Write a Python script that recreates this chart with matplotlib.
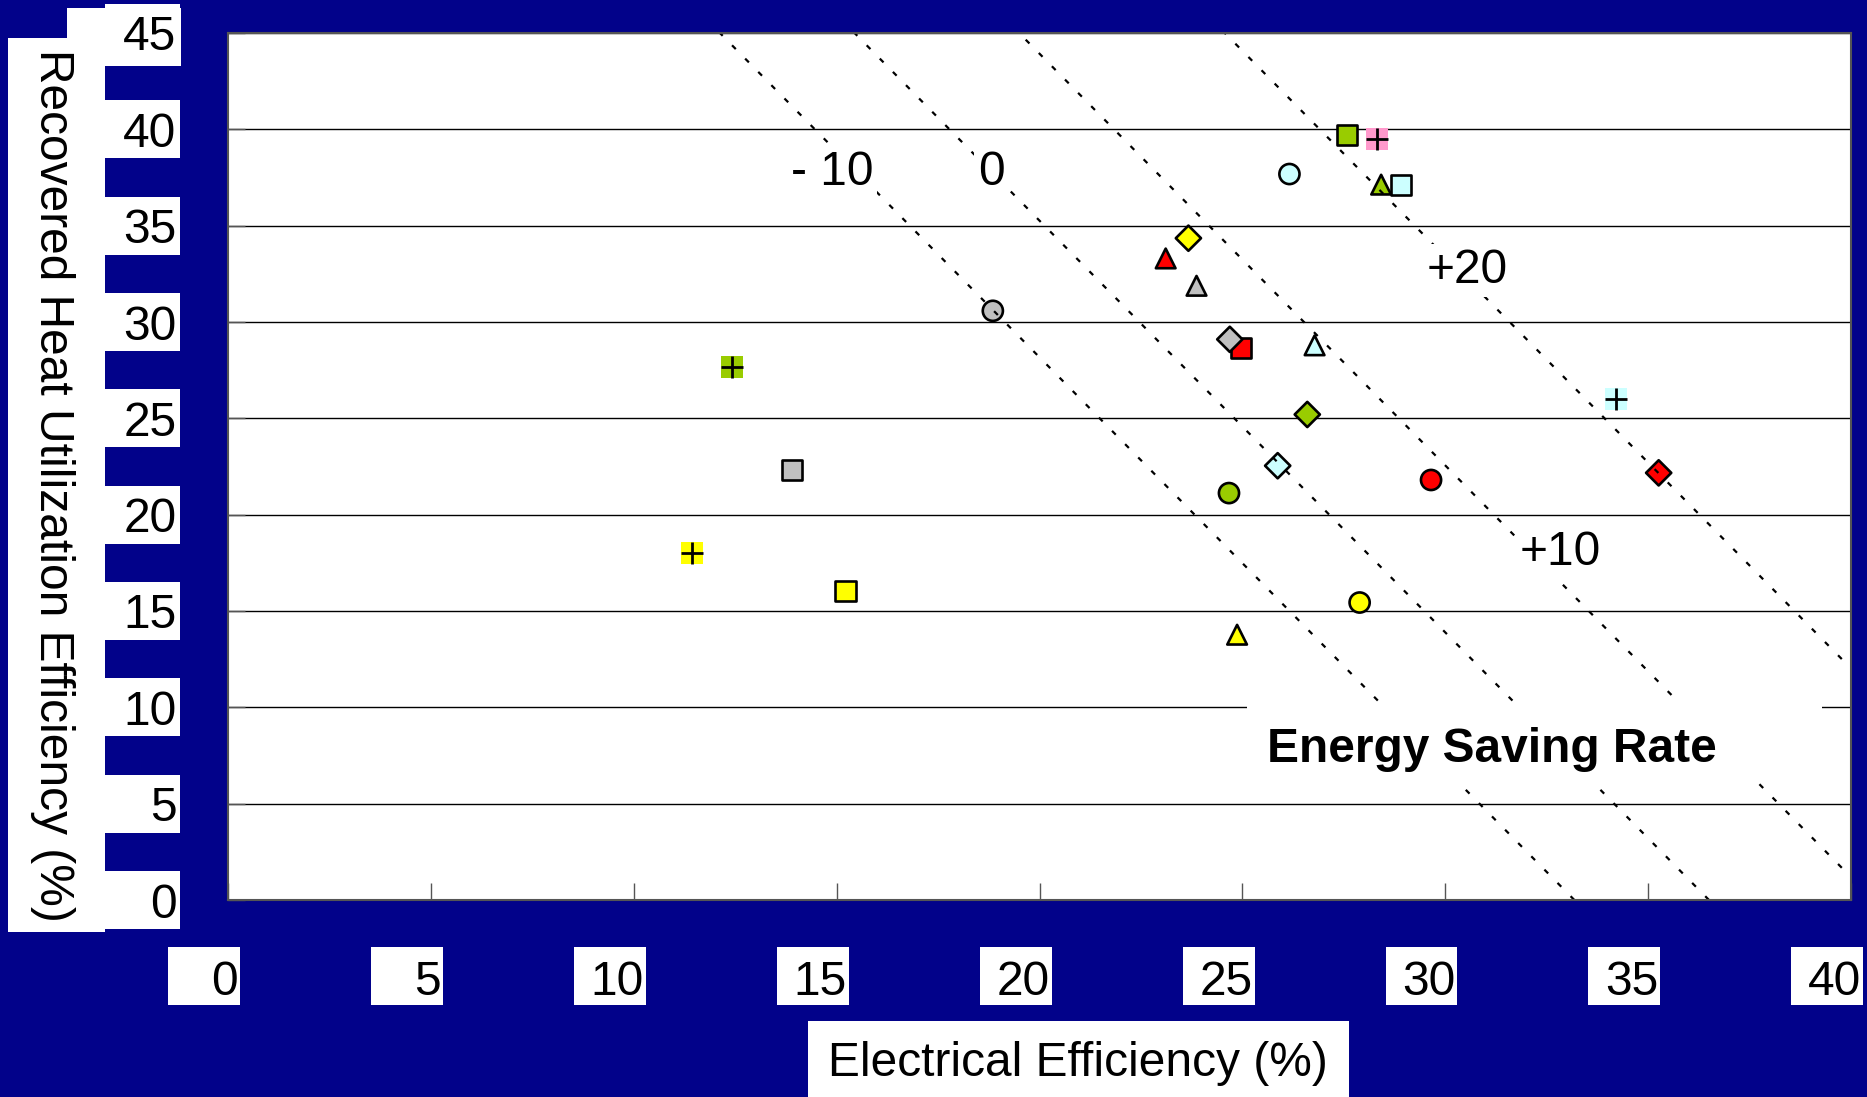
import numpy as np
import matplotlib
matplotlib.use('Agg')
import matplotlib.pyplot as plt
from matplotlib.patches import Rectangle
from matplotlib.transforms import blended_transform_factory, ScaledTranslation

plt.rcParams['font.family'] = ['Liberation Sans', 'DejaVu Sans']
plt.rcParams['font.size'] = 34.5

GREEN, PINK, CYAN, GRAY, RED, YELLOW = '#99CC00', '#FF99CC', '#CCFFFF', '#C0C0C0', '#FF0000', '#FFFF00'

# electrical efficiency (x) / recovered heat efficiency (y), grouped by marker shape
sq_x = [27.57, 28.92, 24.96, 13.90, 15.22]
sq_y = [39.72, 37.13, 28.66, 22.30, 16.06]
sq_c = [GREEN, CYAN, RED, GRAY, YELLOW]

ci_x = [26.16, 18.85, 29.65, 24.67, 27.89]
ci_y = [37.68, 30.58, 21.80, 21.12, 15.44]
ci_c = [CYAN, GRAY, RED, GREEN, YELLOW]

tr_x = [28.42, 23.11, 23.87, 26.78, 24.87]
tr_y = [37.13, 33.30, 31.88, 28.79, 13.77]
tr_c = [GREEN, RED, GRAY, CYAN, YELLOW]

di_x = [23.67, 24.69, 26.60, 25.87, 35.26]
di_y = [34.35, 29.10, 25.20, 22.54, 22.17]
di_c = [YELLOW, GRAY, GREEN, CYAN, RED]

pl_x = [28.31, 12.43, 34.20, 11.43]
pl_y = [39.48, 27.67, 26.00, 18.03]
pl_c = [PINK, GREEN, CYAN, YELLOW]

# energy saving rate iso-lines
esr_rates = [-10, 0, 10, 20]
esr_labels = ['- 10', '0', '+10', '+20']
esr_lab_x = [14.88, 18.81, 32.83, 30.54]
esr_lab_y = [37.10, 37.10, 17.38, 32.02]
ref_elec, ref_heat = 36.5, 78.0

x_ticks = [0, 5, 10, 15, 20, 25, 30, 35, 40]
y_ticks = [0, 5, 10, 15, 20, 25, 30, 35, 40, 45]

W, H = 1867, 1097
fig = plt.figure(figsize=(W / 100, H / 100), dpi=100, facecolor='#02028A')
ax = fig.add_axes([228 / W, 1 - 900 / H, 1623 / W, 867 / H])
ax.set_facecolor('white')
ax.set_xlim(0, 40)
ax.set_ylim(0, 45)
ax.set_xticks(x_ticks)
ax.set_yticks(y_ticks)
ax.yaxis.grid(True, color='black', lw=1.0)
ax.set_axisbelow(True)
for s in ax.spines.values():
    s.set_color('#555555')
    s.set_linewidth(1.5)
ax.tick_params(axis='x', direction='in', length=12, width=1, color='#555555', pad=43)
ax.tick_params(axis='y', direction='in', length=12, width=1, color='#555555', pad=37)
for lbl in ax.get_xticklabels():
    lbl.set_ha('right')
    lbl.set_transform(lbl.get_transform() + ScaledTranslation(0.10, 0, fig.dpi_scale_trans))

# white boxes behind tick labels and axis titles
def px_box(x0, y0, x1, y1):
    fig.add_artist(Rectangle((x0 / W, 1 - y1 / H), (x1 - x0) / W, (y1 - y0) / H,
                             transform=fig.transFigure, fc='white', ec='none', zorder=-1))

xb = blended_transform_factory(ax.transData, ax.transAxes)
for t in x_ticks:
    fig.add_artist(Rectangle((t + 0.30 - 1.77, -0.1211), 1.77, 0.0669, transform=xb,
                             fc='white', ec='none', zorder=-1))
yb = blended_transform_factory(ax.transAxes, ax.transData)
for t in y_ticks:
    fig.add_artist(Rectangle((-0.0758, t - 1.5), 0.0462, 3.0, transform=yb,
                             fc='white', ec='none', zorder=-1))
px_box(67, 8, 181, 66)
px_box(8, 38, 105, 932)
px_box(808, 1021, 1349, 1097)

ax.set_xlabel('Electrical Efficiency (%)', va='center', ha='center')
ax.xaxis.set_label_coords(0.5237, -0.189)
ax.set_ylabel('Recovered Heat Utilization Efficiency (%)', rotation=270, va='center', ha='center')
ax.yaxis.set_label_coords(-0.1084, 0.478)

# markers
ax.scatter(sq_x, sq_y, s=210, marker='s', c=sq_c, edgecolors='black', linewidths=1.9, zorder=2)
ax.scatter(ci_x, ci_y, s=210, marker='o', c=ci_c, edgecolors='black', linewidths=1.9, zorder=2)
ax.scatter(tr_x, tr_y, s=200, marker='^', c=tr_c, edgecolors='black', linewidths=1.9, zorder=2)
ax.scatter(di_x, di_y, s=165, marker='D', c=di_c, edgecolors='black', linewidths=1.9, zorder=2)
ax.scatter(pl_x, pl_y, s=250, marker='s', c=pl_c, edgecolors='none', zorder=2)
ax.scatter(pl_x, pl_y, s=256, marker='+', c='black', linewidths=2, zorder=2.1)

# iso-lines of energy saving rate
hy = np.array([0.0, 45.0])
for r, lab, lx, ly in zip(esr_rates, esr_labels, esr_lab_x, esr_lab_y):
    ex = ref_elec * (1 / (1 - r / 100) - hy / ref_heat)
    ax.plot(ex, hy, color='black', lw=1.6, linestyle=(0, (2.4, 6)), zorder=2.5)
    ax.text(lx, ly, lab, ha='center', va='baseline', zorder=4,
            bbox=dict(fc='white', ec='none', pad=3))

ax.add_patch(Rectangle((25.11, 6.12), 14.18, 4.1, fc='white', ec='none', zorder=3))
ax.text(31.15, 7.16, 'Energy Saving Rate', ha='center', va='baseline', fontweight='bold', zorder=4)

fig.savefig('out.png', dpi=100, facecolor=fig.get_facecolor())
